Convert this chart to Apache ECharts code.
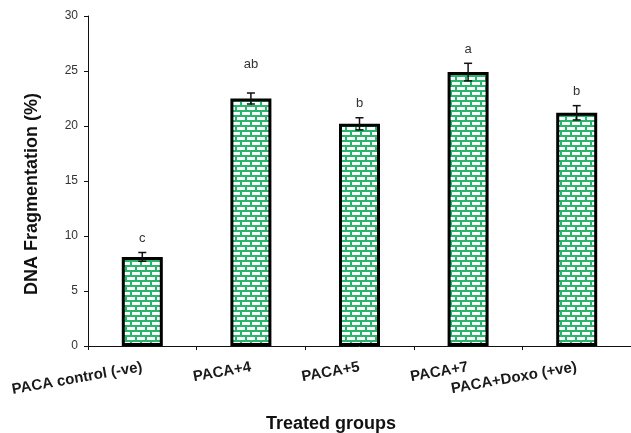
<!DOCTYPE html>
<html>
<head>
<meta charset="utf-8">
<script src="https://cdn.jsdelivr.net/npm/echarts@6/dist/echarts.min.js"></script>
<style>
  html, body { margin: 0; padding: 0; background: #fff; }
  #chart { width: 631px; height: 433px; }
</style>
</head>
<body>
<div id="chart"></div>
<script>
// Treatment groups and their mean DNA fragmentation with error (±)
const categories = ['PACA control (-ve)', 'PACA+4', 'PACA+5', 'PACA+7', 'PACA+Doxo (+ve)'];
const fragmentation = [8.1, 22.5, 20.2, 24.9, 21.2];
const errors = [0.4, 0.5, 0.55, 0.8, 0.65];
const letters = ['c', 'ab', 'b', 'a', 'b'];

const FONT = 'Arial, "Liberation Sans", sans-serif';

// Green brick hatch used as bar fill
function brickPattern() {
  const c = document.createElement('canvas');
  c.width = 10; c.height = 10;
  const g = c.getContext('2d');
  g.fillStyle = '#2bb56c';
  g.fillRect(0, 0, 10, 10);
  g.fillStyle = '#ffffff';
  g.fillRect(2, 2, 8, 3);   // upper course
  g.fillRect(0, 7, 5, 3);   // lower course, offset half a brick
  g.fillRect(7, 7, 3, 3);
  return c;
}

const errorData = fragmentation.map((v, i) => [i, v - errors[i], v + errors[i], letters[i]]);

const chart = echarts.init(document.getElementById('chart'));
chart.setOption({
  animation: false,
  backgroundColor: '#ffffff',
  grid: { left: 88, top: 16, width: 544, height: 330, containLabel: false },
  xAxis: {
    type: 'category',
    data: categories,
    axisLine: { lineStyle: { color: '#111', width: 1 } },
    axisTick: { show: true, interval: 0, length: 4, lineStyle: { color: '#111' } },
    axisLabel: {
      interval: 0, rotate: 10, margin: 21,
      fontFamily: FONT, fontWeight: 'bold', fontSize: 15, color: '#1a1a1a'
    }
  },
  yAxis: {
    type: 'value', min: 0, max: 30, interval: 5,
    axisLine: { show: true, lineStyle: { color: '#111', width: 1 } },
    axisTick: { show: true, length: 4, lineStyle: { color: '#111' } },
    splitLine: { show: false },
    axisLabel: { margin: 10, fontFamily: FONT, fontSize: 12, color: '#333' }
  },
  graphic: [
    {
      type: 'text', x: 32, y: 194, rotation: Math.PI / 2,
      style: {
        text: 'DNA Fragmentation (%)', font: 'bold 18px ' + FONT, fill: '#111',
        align: 'center', verticalAlign: 'middle'
      }
    },
    {
      type: 'text', x: 331, y: 424,
      style: {
        text: 'Treated groups', font: 'bold 18px ' + FONT, fill: '#111',
        align: 'center', verticalAlign: 'middle'
      }
    }
  ],
  series: [
    {
      type: 'bar',
      data: fragmentation,
      barWidth: 41,
      itemStyle: {
        color: { image: brickPattern(), repeat: 'repeat' },
        borderColor: '#000', borderWidth: 3
      },
      z: 2
    },
    {
      type: 'custom',
      data: errorData,
      z: 3,
      renderItem: function (params, api) {
        const lo = api.coord([api.value(0), api.value(1)]);
        const hi = api.coord([api.value(0), api.value(2)]);
        const x = lo[0];
        const cap = 4;
        const stroke = { stroke: '#111', lineWidth: 1.5 };
        const lift = params.dataIndex === 1 ? 29 : 14;
        return {
          type: 'group',
          children: [
            { type: 'line', shape: { x1: x, y1: lo[1], x2: x, y2: hi[1] }, style: stroke },
            { type: 'line', shape: { x1: x - cap, y1: hi[1], x2: x + cap, y2: hi[1] }, style: stroke },
            { type: 'line', shape: { x1: x - cap, y1: lo[1], x2: x + cap, y2: lo[1] }, style: stroke },
            {
              type: 'text', x: x, y: hi[1] - lift,
              style: {
                text: api.value(3), font: '13px ' + FONT, fill: '#333',
                align: 'center', verticalAlign: 'middle'
              }
            }
          ]
        };
      }
    }
  ]
});
</script>
</body>
</html>
